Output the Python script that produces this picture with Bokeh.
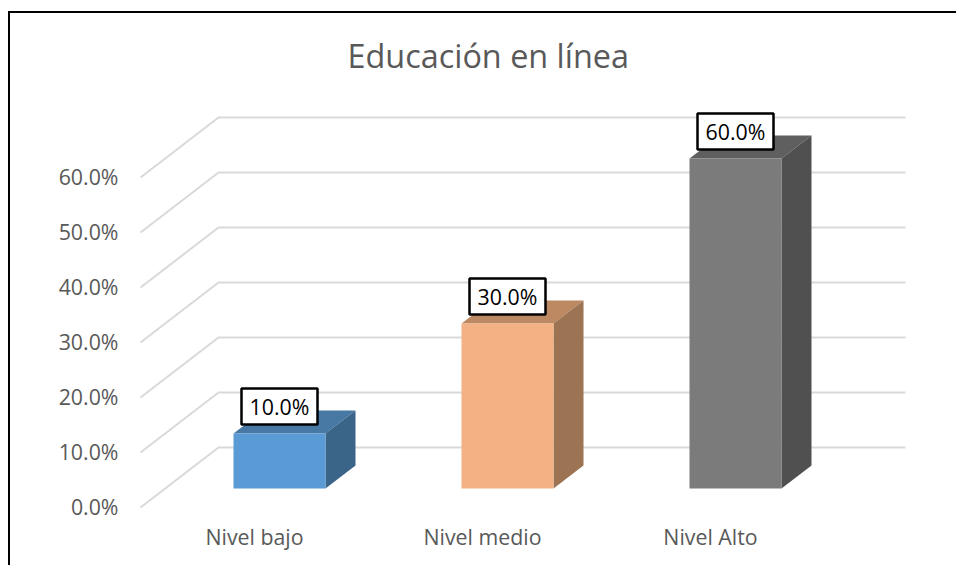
from bokeh.plotting import figure
from bokeh.models import Range1d, LinearAxis, FixedTicker
from bokeh.core.properties import value
from bokeh.embed import file_html
from bokeh.resources import INLINE

title_text = "Educación en línea"
categories = ["Nivel bajo", "Nivel medio", "Nivel Alto"]
percentages = [10.0, 30.0, 60.0]
y_ticks = [0, 10, 20, 30, 40, 50, 60]
front_colors = ["#5B9BD5", "#F4B183", "#7B7B7B"]
top_colors = ["#4878A4", "#BC8963", "#5F5F5F"]
side_colors = ["#3A6488", "#9C7353", "#505050"]

FONT = "Open Sans"
TEXT = "#595959"
W, H = 946, 552
L, R, T, B = 128, 49, 69, 54
U_X = 228.0                          # px per category
U_Y = 5.5                            # px per percent
PAD_X, PAD_Y = 2 / U_X, 4 / U_Y
WALL_DX, WALL_DY = 78 / U_X, 60 / U_Y
WALL_END = 81 / U_X
BAR_DX, BAR_DY = 25 / U_X, 19 / U_Y
SIDE_DX, SIDE_DY = 30 / U_X, 23 / U_Y
BAR_W = 92 / U_X
LABEL_SHIFT = 1 / U_Y
frame_w, frame_h = W - L - R, H - T - B

p = figure(width=W, height=H, output_backend="svg", toolbar_location=None,
           x_axis_type=None, y_axis_type=None,
           frame_width=frame_w, frame_height=frame_h,
           x_range=Range1d(-PAD_X, frame_w / U_X - PAD_X),
           y_range=Range1d(-PAD_Y, frame_h / U_Y - PAD_Y),
           min_border_left=L, min_border_right=R, min_border_top=T, min_border_bottom=B,
           outline_line_color=None, background_fill_color="white", border_fill_color="white",
           margin=(11, 0, 0, 8),
           styles={"border-left": "2px solid black", "border-top": "2px solid black"})
p.grid.visible = False
p.title.text = title_text
p.title.align = "left"
p.title.offset = 209
p.title.standoff = 11
p.title.text_font = FONT
p.title.text_font_style = "normal"
p.title.text_font_size = "24.3pt"
p.title.text_color = TEXT

p.extra_y_ranges["labels"] = Range1d(-PAD_Y - LABEL_SHIFT, frame_h / U_Y - PAD_Y - LABEL_SHIFT)
yaxis = LinearAxis(ticker=FixedTicker(ticks=y_ticks), y_range_name="labels")
yaxis.axis_line_color = None
yaxis.major_tick_line_color = None
yaxis.minor_tick_line_color = None
yaxis.major_label_text_font = FONT
yaxis.major_label_text_font_size = "16pt"
yaxis.major_label_text_color = TEXT
yaxis.major_label_overrides = {t: f"{t:.1f}%" for t in y_ticks}
yaxis.major_label_standoff = 14
p.add_layout(yaxis, "left")

xaxis = LinearAxis(ticker=FixedTicker(ticks=[i + 0.5 for i in range(len(categories))]))
xaxis.axis_line_color = None
xaxis.major_tick_line_color = None
xaxis.minor_tick_line_color = None
xaxis.major_label_text_font = FONT
xaxis.major_label_text_font_size = "16pt"
xaxis.major_label_text_color = TEXT
xaxis.major_label_overrides = {i + 0.5: c for i, c in enumerate(categories)}
xaxis.major_label_standoff = 4
p.add_layout(xaxis, "below")

for t in y_ticks:
    p.line([0, WALL_DX, 3 + WALL_END], [t, t + WALL_DY, t + WALL_DY],
           line_color="#D9D9D9", line_width=2)

for i, v in enumerate(percentages):
    x0 = i + 0.5 + BAR_DX - BAR_W / 2
    x1 = x0 + BAR_W
    y0 = BAR_DY
    y1 = v + BAR_DY
    p.patch([x0, x1, x1 + SIDE_DX, x0 + SIDE_DX], [y1, y1, y1 + SIDE_DY, y1 + SIDE_DY],
            fill_color=top_colors[i], line_color=None)
    p.patch([x1, x1 + SIDE_DX, x1 + SIDE_DX, x1], [y0, y0 + SIDE_DY, y1 + SIDE_DY, y1],
            fill_color=side_colors[i], line_color=None)
    p.quad(left=x0, right=x1, bottom=y0, top=y1, fill_color=front_colors[i], line_color=None)

lx = [i + 0.5 + BAR_DX for i in range(len(percentages))]
ly = [v + BAR_DY + 27 / U_Y for v in percentages]
p.rect(lx, ly, width=76, height=36, width_units="screen", height_units="screen",
       fill_color="white", line_color="black", line_width=2.5)
p.text(lx, ly, text=[f"{v:.1f}%" for v in percentages], text_align="center", text_baseline="middle",
       text_font=value(FONT), text_font_size="16pt", text_color="black")

open("out.html", "w").write(file_html(p, INLINE))
